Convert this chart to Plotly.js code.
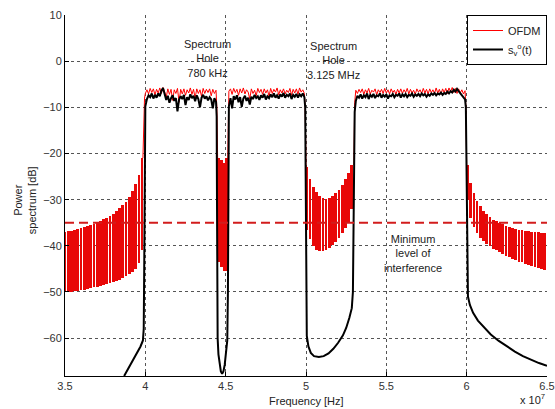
<!DOCTYPE html>
<html>
<head>
<meta charset="utf-8">
<script src="https://cdn.plot.ly/plotly-3.0.1.min.js"></script>
<style>html,body{margin:0;padding:0;background:#fff;}#chart{width:555px;height:409px;}</style>
</head>
<body>
<div id="chart"></div>
<script>
// ---------- DATA (frequency in units of 1e7 Hz, power in dB) ----------
// passband sample grids
const bandAX = [4.00,4.01,4.02,4.03,4.04,4.05,4.06,4.07,4.08,4.09,4.10,4.11,4.12,4.13,4.14,4.15,4.16,4.17,4.18,4.19,4.20,4.21,4.22,4.23,4.24,4.25,4.26,4.27,4.28,4.29,4.30,4.31,4.32,4.33,4.34,4.35,4.36,4.37,4.38,4.39,4.40,4.41,4.42,4.43,4.44];
const bandBX = [4.52,4.53,4.54,4.55,4.56,4.57,4.58,4.59,4.60,4.61,4.62,4.63,4.64,4.65,4.66,4.67,4.68,4.69,4.70,4.71,4.72,4.73,4.74,4.75,4.76,4.77,4.78,4.79,4.80,4.81,4.82,4.83,4.84,4.85,4.86,4.87,4.88,4.89,4.90,4.91,4.92,4.93,4.94,4.95,4.96,4.97,4.98,4.99];
const bandCX = [5.31,5.32,5.33,5.34,5.35,5.36,5.37,5.38,5.39,5.40,5.41,5.42,5.43,5.44,5.45,5.46,5.47,5.48,5.49,5.50,5.51,5.52,5.53,5.54,5.55,5.56,5.57,5.58,5.59,5.60,5.61,5.62,5.63,5.64,5.65,5.66,5.67,5.68,5.69,5.70,5.71,5.72,5.73,5.74,5.75,5.76,5.77,5.78,5.79,5.80,5.81,5.82,5.83,5.84,5.85,5.86,5.87,5.88,5.89,5.90,5.91,5.92,5.93,5.94,5.95,5.96,5.97,5.98,5.99];

// OFDM passband levels
const ofdmA = [-7.0,-6.2,-7.1,-5.9,-6.8,-6.0,-7.3,-6.1,-6.9,-5.8,-7.0,-5.7,-6.6,-7.8,-6.0,-7.2,-6.1,-8.5,-6.2,-7.0,-5.9,-8.9,-6.1,-7.1,-6.0,-7.4,-6.2,-6.9,-5.8,-7.2,-6.1,-8.0,-6.0,-7.0,-6.2,-7.6,-5.9,-7.0,-6.1,-6.8,-6.0,-7.5,-6.1,-7.0,-6.3];
const ofdmB = [-6.5,-6.0,-7.2,-5.9,-6.8,-6.1,-7.4,-6.0,-6.9,-5.8,-7.1,-6.2,-6.7,-8.2,-6.0,-7.0,-6.3,-7.5,-5.9,-6.8,-6.1,-7.2,-6.0,-6.9,-6.2,-7.6,-5.9,-7.0,-6.1,-6.7,-5.8,-7.3,-6.2,-6.9,-6.0,-7.1,-6.3,-6.8,-5.9,-7.4,-6.1,-6.9,-6.0,-7.2,-5.8,-6.7,-6.2,-7.0];
const ofdmC = [-6.3,-7.0,-6.1,-6.8,-6.0,-7.2,-6.2,-6.9,-5.9,-7.1,-6.3,-6.7,-6.0,-7.3,-6.2,-6.8,-6.1,-7.0,-5.9,-6.9,-6.2,-7.1,-6.0,-6.8,-6.3,-7.2,-6.1,-6.9,-6.0,-7.0,-6.2,-6.8,-5.9,-7.1,-6.1,-6.9,-6.3,-7.2,-6.0,-6.7,-6.2,-7.0,-5.9,-6.9,-6.1,-7.1,-6.0,-6.8,-6.2,-7.0,-5.8,-6.9,-6.1,-7.2,-6.0,-6.8,-5.9,-7.0,-5.8,-6.6,-5.7,-6.8,-5.9,-7.0,-6.0,-6.9,-6.2,-7.1,-6.4];
// OFDM band edges
const ofdmEdgeAinX = [3.985,3.99,3.995], ofdmEdgeAinY = [-21,-14,-8];
const ofdmEdgeAoutX = [4.445,4.45], ofdmEdgeAoutY = [-10,-21];
const ofdmEdgeBinX = [4.513,4.517], ofdmEdgeBinY = [-21,-9];
const ofdmEdgeBoutX = [4.995,5.0], ofdmEdgeBoutY = [-10,-23];
const ofdmEdgeCinX = [5.298,5.303], ofdmEdgeCinY = [-22.5,-9];
const ofdmEdgeCoutX = [5.995,6.0], ofdmEdgeCoutY = [-10,-22.5];

// s_v^o(t) passband levels
const sigA = [-9.8,-8.2,-7.4,-7.8,-7.0,-8.1,-7.3,-7.9,-7.0,-7.6,-6.4,-5.8,-7.2,-8.4,-7.5,-9.0,-8.0,-7.4,-8.6,-8.0,-10.9,-8.3,-7.6,-8.2,-7.3,-9.5,-7.8,-8.4,-7.2,-8.0,-7.5,-8.7,-7.4,-8.2,-10.0,-7.9,-7.3,-8.1,-7.6,-8.5,-7.8,-8.3,-10.2,-8.0,-8.8];
const sigB = [-9.8,-8.0,-10.2,-7.6,-8.3,-7.4,-8.9,-7.8,-9.9,-8.1,-7.5,-8.6,-7.9,-9.4,-7.7,-8.2,-7.3,-8.0,-7.6,-8.4,-7.4,-7.9,-7.1,-8.3,-7.6,-8.0,-7.2,-7.8,-7.0,-7.9,-7.4,-8.1,-7.2,-7.7,-6.9,-7.9,-7.3,-7.6,-7.0,-8.2,-7.3,-7.7,-7.1,-7.9,-7.2,-7.6,-7.0,-7.8];
const sigC = [-8.6,-7.5,-7.9,-7.2,-8.1,-7.4,-7.8,-7.0,-8.2,-7.3,-7.7,-7.1,-8.0,-7.4,-7.6,-7.0,-7.9,-7.3,-7.7,-7.2,-8.1,-7.4,-7.6,-7.1,-7.8,-7.3,-7.5,-7.0,-7.9,-7.2,-7.6,-7.1,-7.8,-7.3,-7.5,-7.0,-7.7,-7.2,-7.5,-7.1,-7.6,-7.0,-7.4,-7.1,-7.7,-7.2,-7.5,-7.0,-7.3,-6.9,-7.4,-7.0,-7.2,-6.8,-7.3,-6.9,-7.1,-6.6,-7.0,-6.5,-6.8,-6.2,-6.6,-6.0,-6.5,-6.9,-7.4,-7.8,-8.3];
// s_v^o(t) out-of-band parts
const sigLeftX = [3.868,3.89,3.91,3.93,3.95,3.97,3.985,3.99,3.993,3.996,3.998];
const sigLeftY = [-68.2,-66.8,-65.4,-64.2,-63.0,-61.8,-60.5,-58,-45,-25,-13];
const sigHoleAX = [4.444,4.446,4.448,4.450,4.455,4.462,4.470,4.478,4.486,4.494,4.502,4.510,4.514,4.516,4.518];
const sigHoleAY = [-12,-30,-50,-60,-63.5,-65.8,-67.2,-67.7,-67.2,-65.8,-63.5,-60.5,-50,-30,-13];
const sigHoleBX = [4.995,4.998,5.000,5.002,5.005,5.015,5.03,5.05,5.08,5.11,5.14,5.17,5.20,5.23,5.25,5.27,5.285,5.292,5.296,5.299,5.303];
const sigHoleBY = [-10,-25,-45,-56,-59.5,-61.8,-63.2,-63.9,-64.1,-63.9,-63.3,-62.3,-61.0,-59.4,-57.8,-55.6,-53.5,-50,-35,-20,-11];
const sigRightX = [5.995,5.998,6.000,6.003,6.008,6.02,6.04,6.07,6.10,6.15,6.20,6.25,6.30,6.35,6.40,6.45,6.50];
const sigRightY = [-10,-22,-38,-48,-51,-52.8,-54.5,-56.2,-57.4,-59.2,-60.6,-61.8,-62.9,-63.9,-64.7,-65.4,-66.0];

// OFDM side-lobe stripes: position, upper and lower level
const lobeLeftX  = [3.50,3.52,3.54,3.56,3.58,3.60,3.62,3.64,3.66,3.68,3.70,3.72,3.74,3.76,3.78,3.80,3.82,3.84,3.86,3.88,3.90,3.92,3.94,3.96,3.98];
const lobeLeftHi = [-37.0,-36.8,-36.7,-36.5,-36.3,-36.1,-35.9,-35.7,-35.4,-35.2,-34.9,-34.6,-34.2,-33.9,-33.5,-33.0,-32.5,-31.9,-31.2,-30.4,-29.4,-28.2,-26.7,-24.6,-21.0];
const lobeLeftLo = [-50.1,-50.0,-49.9,-49.8,-49.7,-49.6,-49.5,-49.3,-49.2,-49.0,-48.9,-48.7,-48.5,-48.3,-48.1,-47.8,-47.6,-47.3,-46.9,-46.5,-46.1,-45.6,-45.0,-43.8,-41.0];
const lobeHoleAX  = [4.455,4.472,4.489,4.506];
const lobeHoleAHi = [-21.0,-21.5,-22.0,-21.0];
const lobeHoleALo = [-43.5,-44.5,-45.5,-45.5];
const lobeHoleBX  = [5.005,5.025,5.045,5.065,5.085,5.105,5.125,5.145,5.165,5.185,5.205,5.225,5.245,5.265,5.285];
const lobeHoleBHi = [-23.0,-25.5,-27.2,-28.4,-29.2,-29.7,-29.8,-29.6,-29.2,-28.6,-27.8,-26.8,-25.6,-24.2,-22.5];
const lobeHoleBLo = [-36.5,-38.6,-40.0,-40.9,-41.2,-41.1,-40.8,-40.4,-39.8,-39.1,-38.3,-37.3,-36.2,-34.8,-32.0];
const lobeRightX  = [6.005,6.025,6.045,6.065,6.085,6.105,6.125,6.145,6.165,6.185,6.205,6.225,6.245,6.265,6.285,6.305,6.325,6.345,6.365,6.385,6.405,6.425,6.445,6.465,6.485];
const lobeRightHi = [-22.5,-26.4,-28.6,-30.2,-31.4,-32.4,-33.2,-33.8,-34.3,-34.7,-35.0,-35.3,-35.6,-35.9,-36.1,-36.3,-36.5,-36.6,-36.7,-36.8,-36.9,-37.0,-37.1,-37.2,-37.3];
const lobeRightLo = [-30.0,-34.0,-36.0,-37.3,-38.3,-39.0,-39.6,-40.1,-40.6,-41.0,-41.4,-41.8,-42.1,-42.5,-42.8,-43.1,-43.4,-43.6,-43.9,-44.1,-44.3,-44.6,-44.8,-45.0,-45.2];

// minimum interference level
const thresholdX = [3.5, 6.5];
const thresholdY = [-35, -35];

// axis ticks
const xTickVals = [3.5,4,4.5,5,5.5,6,6.5];
const xTickText = ['3.5','4','4.5','5','5.5','6','6.5'];
const yTickVals = [-60,-50,-40,-30,-20,-10,0,10];

// ---------- BUILD TRACES ----------
const ofdmX = [].concat(ofdmEdgeAinX, bandAX, ofdmEdgeAoutX, [null], ofdmEdgeBinX, bandBX, ofdmEdgeBoutX, [null], ofdmEdgeCinX, bandCX, ofdmEdgeCoutX);
const ofdmY = [].concat(ofdmEdgeAinY, ofdmA, ofdmEdgeAoutY, [null], ofdmEdgeBinY, ofdmB, ofdmEdgeBoutY, [null], ofdmEdgeCinY, ofdmC, ofdmEdgeCoutY);
const sigX = [].concat(sigLeftX, bandAX, sigHoleAX, bandBX, sigHoleBX, bandCX, sigRightX);
const sigY = [].concat(sigLeftY, sigA, sigHoleAY, sigB, sigHoleBY, sigC, sigRightY);
const lobeX = [].concat(lobeLeftX, lobeHoleAX, lobeHoleBX, lobeRightX);
const lobeHi = [].concat(lobeLeftHi, lobeHoleAHi, lobeHoleBHi, lobeRightHi);
const lobeLo = [].concat(lobeLeftLo, lobeHoleALo, lobeHoleBLo, lobeRightLo);

const FONT = 'Liberation Sans, Arial, Helvetica, sans-serif';
const traces = [
  {type:'bar', x: lobeX, base: lobeLo, y: lobeHi.map((h,i)=>h-lobeLo[i]), width: 0.017,
   marker:{color:'#e80808', line:{width:0}}, showlegend:false, hoverinfo:'skip'},
  {type:'scatter', mode:'lines', name:'OFDM', x: ofdmX, y: ofdmY,
   line:{color:'#ff0000', width:1}, connectgaps:false},
  {type:'scatter', mode:'lines', name:'s<sub>v</sub><sup>o</sup>(t)', x: sigX, y: sigY,
   line:{color:'#000000', width:2}},
  {type:'scatter', mode:'lines', x: thresholdX, y: thresholdY, showlegend:false,
   line:{color:'#d21c1c', width:2, dash:'9px,5px'}}
];

const layout = {
  width:555, height:409,
  margin:{l:65, r:8, t:15, b:33},
  paper_bgcolor:'#fff', plot_bgcolor:'#fff',
  font:{family:FONT, size:11, color:'#222'},
  barmode:'overlay', bargap:0,
  showlegend:true,
  legend:{x:1, xanchor:'right', y:1, yanchor:'top', bgcolor:'#fff', bordercolor:'#000', borderwidth:1,
          font:{family:FONT, size:11, color:'#222'}, traceorder:'normal'},
  xaxis:{range:[3.5,6.5], tickmode:'array', tickvals:xTickVals, ticktext:xTickText,
         showgrid:true, gridcolor:'#555', griddash:'dot', gridwidth:1,
         showline:true, linecolor:'#000', linewidth:1, mirror:false,
         ticks:'inside', ticklen:4, tickcolor:'#000', zeroline:false,
         tickfont:{family:FONT, size:11, color:'#333'}},
  yaxis:{range:[-68.2,10], tickmode:'array', tickvals:yTickVals,
         showgrid:true, gridcolor:'#555', griddash:'dot', gridwidth:1,
         showline:true, linecolor:'#000', linewidth:1, mirror:false,
         ticks:'inside', ticklen:4, tickcolor:'#000', zeroline:false,
         tickfont:{family:FONT, size:11, color:'#333'}},
  annotations:[
    {x:4.384, y:0.5, xref:'x', yref:'y', text:'Spectrum<br>Hole<br>780 kHz', showarrow:false,
     font:{family:FONT, size:11, color:'#222'}, xanchor:'center', yanchor:'middle'},
    {x:5.171, y:0.1, xref:'x', yref:'y', text:'Spectrum<br>Hole<br>3.125 MHz', showarrow:false,
     font:{family:FONT, size:11, color:'#222'}, xanchor:'center', yanchor:'middle'},
    {x:5.665, y:-41.6, xref:'x', yref:'y', text:'Minimum<br>level of<br>interference', showarrow:false,
     font:{family:FONT, size:11, color:'#222'}, xanchor:'center', yanchor:'middle'},
    {x:0.5, y:-0.069, xref:'paper', yref:'paper', text:'Frequency [Hz]', showarrow:false,
     font:{family:FONT, size:11, color:'#222'}, xanchor:'center', yanchor:'middle'},
    {x:1, y:-0.0886, xref:'paper', yref:'paper', text:'x 10<sup>7</sup>', showarrow:false,
     font:{family:FONT, size:11, color:'#222'}, xanchor:'right', yanchor:'bottom'},
    {x:-0.083, y:0.487, xref:'paper', yref:'paper', text:'Power<br>spectrum [dB]', showarrow:false,
     textangle:-90, font:{family:FONT, size:11, color:'#222'}, xanchor:'center', yanchor:'middle'}
  ]
};

Plotly.newPlot('chart', traces, layout, {displayModeBar:false, staticPlot:true});
</script>
</body>
</html>
